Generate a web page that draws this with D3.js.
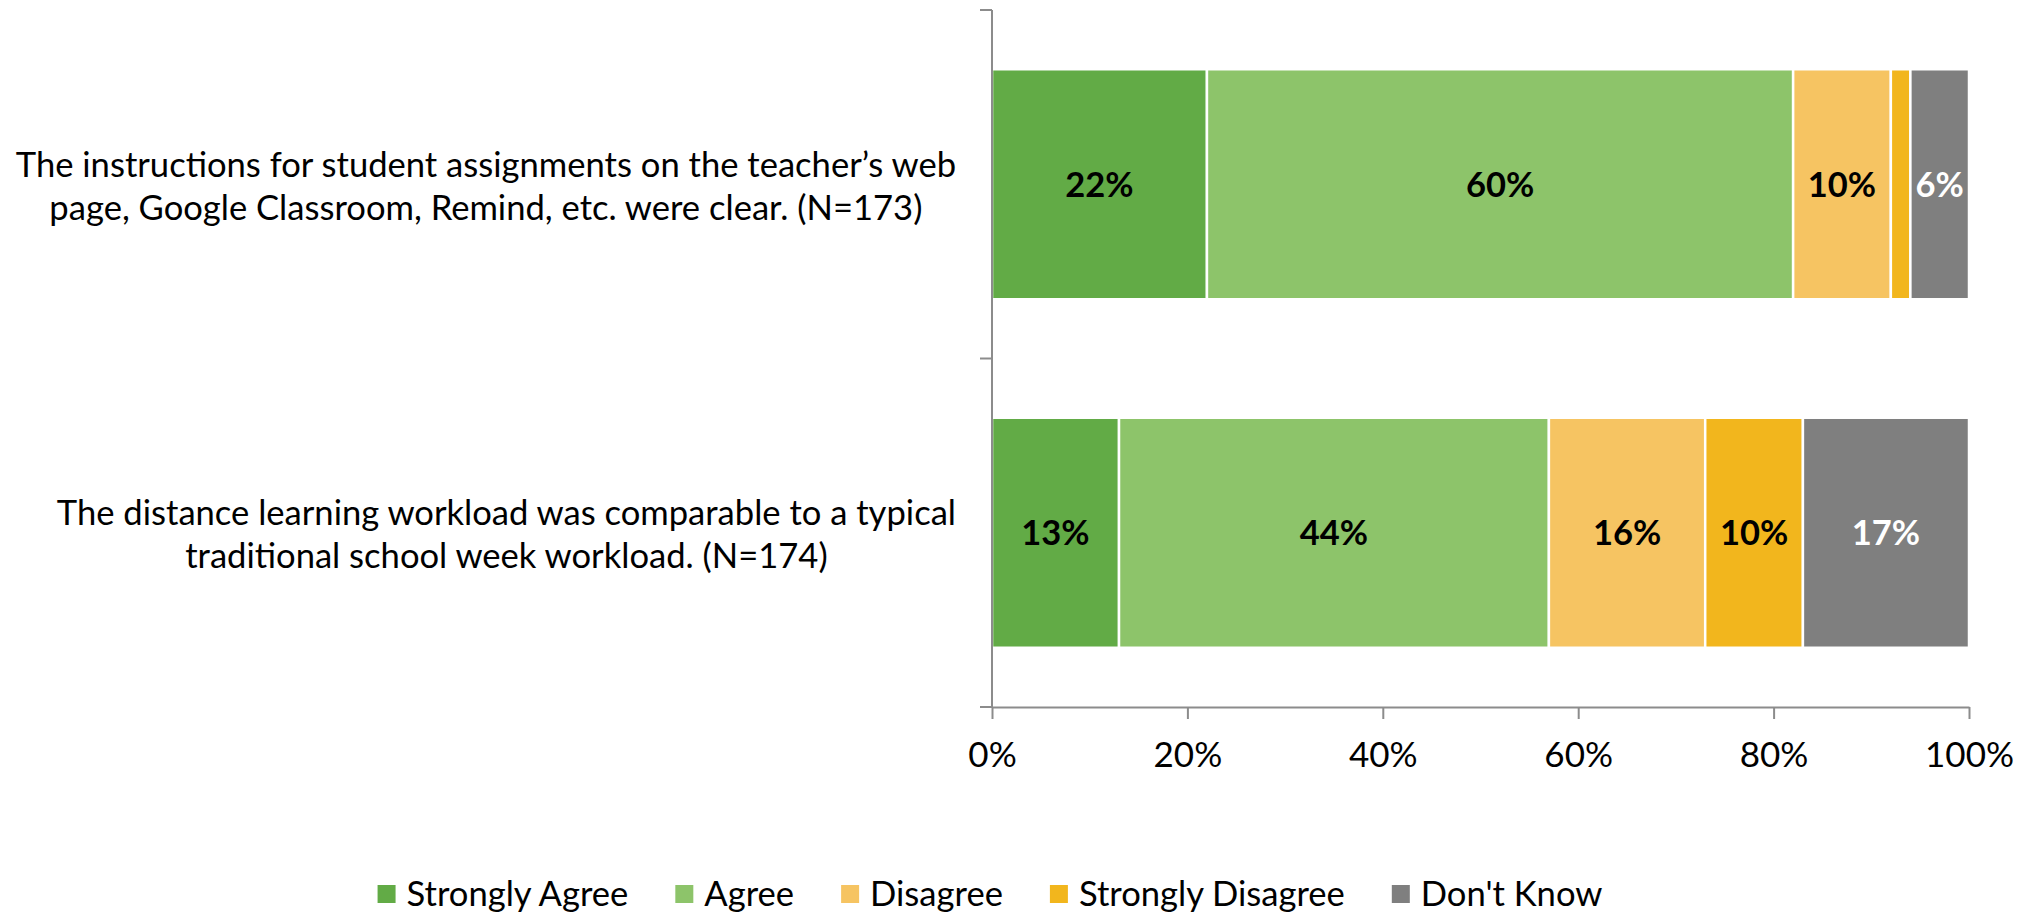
<!DOCTYPE html>
<html>
<head>
<meta charset="utf-8">
<script src="https://cdn.jsdelivr.net/npm/d3@7/dist/d3.min.js"></script>
<style>
  html, body { margin: 0; padding: 0; background: #fff; }
  svg { display: block; }
  text { font-family: Lato, "Open Sans", "Noto Sans", sans-serif; }
</style>
</head>
<body>
<svg id="chart" width="2028" height="913"></svg>
<script>
// ---------- data ----------
const categories = [
  "The instructions for student assignments on the teacher’s web\npage, Google Classroom, Remind, etc. were clear. (N=173)",
  "The distance learning workload was comparable to a typical\ntraditional school week workload. (N=174)"
];
const seriesNames = ["Strongly Agree", "Agree", "Disagree", "Strongly Disagree", "Don't Know"];
const strongly_agree    = [22, 13];
const agree             = [60, 44];
const disagree          = [10, 16];
const strongly_disagree = [2, 10];
const dont_know         = [6, 17];
const seriesColors = ["#62ab46", "#8dc46a", "#f6c462", "#f2b61d", "#7f7f7f"];
const labelColors  = ["#000", "#000", "#000", "#000", "#fff"];
const tickValues = [0, 20, 40, 60, 80, 100];

const seriesValues = [strongly_agree, agree, disagree, strongly_disagree, dont_know];

// ---------- layout ----------
const svg = d3.select("#chart");
const plotLeft = 992, plotRight = 1969, plotTop = 10, plotBottom = 707;
const axisColor = "#8c8c8c";
const fontSize = 34;

const x = d3.scaleLinear().domain([0, 100]).range([plotLeft, plotRight]);
const y = d3.scaleBand().domain(categories).range([plotTop, plotBottom])
  .paddingInner(0.34).paddingOuter(0.17);

// stacked data
const rows = categories.map((c, i) => {
  const o = { cat: c };
  seriesNames.forEach((s, j) => o[s] = seriesValues[j][i]);
  return o;
});
const stack = d3.stack().keys(seriesNames)(rows);

// bars
const gBars = svg.append("g");
stack.forEach((layer, j) => {
  const g = gBars.append("g");
  g.selectAll("rect").data(layer).join("rect")
    .attr("x", d => x(d[0]))
    .attr("y", d => y(d.data.cat))
    .attr("width", d => x(d[1]) - x(d[0]))
    .attr("height", y.bandwidth())
    .attr("fill", seriesColors[j])
    .attr("stroke", "#fff")
    .attr("stroke-width", 2.5);
  g.selectAll("text").data(layer.filter(d => d[1] - d[0] >= 5)).join("text")
    .attr("x", d => x((d[0] + d[1]) / 2))
    .attr("y", d => y(d.data.cat) + y.bandwidth() / 2)
    .attr("dy", "0.36em")
    .attr("text-anchor", "middle")
    .attr("font-weight", "bold")
    .attr("font-size", fontSize + 0.5)
    .attr("fill", labelColors[j])
    .text(d => Math.round(d[1] - d[0]) + "%");
});

// y axis line + boundary ticks
const yTicks = d3.range(categories.length + 1).map(i => plotTop + i * (plotBottom - plotTop) / categories.length);
svg.append("line").attr("x1", plotLeft).attr("x2", plotLeft)
  .attr("y1", plotTop).attr("y2", plotBottom)
  .attr("stroke", axisColor).attr("stroke-width", 2);
svg.selectAll(".ytick").data(yTicks).join("line")
  .attr("x1", plotLeft - 12).attr("x2", plotLeft)
  .attr("y1", d => d).attr("y2", d => d)
  .attr("stroke", axisColor).attr("stroke-width", 2);

// x axis
const xAxis = d3.axisBottom(x).tickValues(tickValues).tickFormat(d => d + "%")
  .tickSize(12).tickSizeOuter(0).tickPadding(20);
const gx = svg.append("g").attr("transform", `translate(0,${plotBottom})`).call(xAxis);
gx.select(".domain").attr("stroke", axisColor).attr("stroke-width", 2);
gx.selectAll(".tick line").attr("stroke", axisColor).attr("stroke-width", 2);
gx.selectAll(".tick text").attr("font-size", fontSize + 1).attr("fill", "#000")
  .attr("font-family", "Lato, 'Open Sans', sans-serif").attr("y", 60).attr("dy", 0);

// category labels (block right-aligned, lines centred within block)
const labelRight = 956;
categories.forEach(c => {
  const lines = c.split("\n");
  const g = svg.append("g");
  const cy = y(c) + y.bandwidth() / 2 + 2;
  const lh = 43;
  const texts = lines.map((ln, k) => g.append("text")
    .attr("font-size", fontSize + 0.6)
    .attr("fill", "#000")
    .attr("text-anchor", "middle")
    .attr("y", cy + (k - (lines.length - 1) / 2) * lh)
    .attr("dy", "0.35em")
    .text(ln));
  const w = d3.max(texts, t => t.node().getComputedTextLength());
  texts.forEach(t => t.attr("x", labelRight - w / 2));
});

// legend
const legendY = 894, sq = 18, gapText = 11, gapItem = 47;
const gLeg = svg.append("g");
let cx = 0;
seriesNames.forEach((s, j) => {
  const it = gLeg.append("g").attr("transform", `translate(${cx},0)`);
  it.append("rect").attr("x", 0).attr("y", legendY - sq / 2).attr("width", sq).attr("height", sq)
    .attr("fill", seriesColors[j]);
  const t = it.append("text").attr("x", sq + gapText).attr("y", legendY).attr("dy", "0.35em")
    .attr("font-size", fontSize + 0.6).attr("fill", "#000").text(s);
  cx += sq + gapText + t.node().getComputedTextLength() + gapItem;
});
const legW = cx - gapItem;
gLeg.attr("transform", `translate(${990 - legW / 2},0)`);
</script>
</body>
</html>
